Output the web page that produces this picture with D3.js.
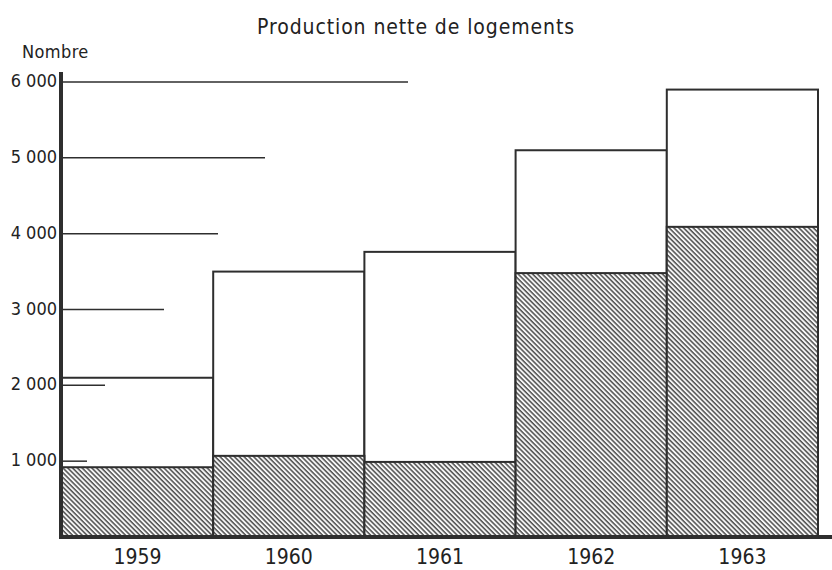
<!DOCTYPE html>
<html>
<head>
<meta charset="utf-8">
<script src="https://cdn.jsdelivr.net/npm/d3@7"></script>
<style>
  body { margin: 0; background: #fff; }
  text { font-family: "DejaVu Sans Condensed", "Liberation Sans Narrow", "Roboto", sans-serif; fill: #222; }
</style>
</head>
<body>
<svg id="chart" width="832" height="570"></svg>
<script>
// values
const years = ["1959", "1960", "1961", "1962", "1963"];
const totals = [2100, 3500, 3760, 5100, 5900];
const hatched = [920, 1070, 990, 3480, 4090];
const yTicks = [1000, 2000, 3000, 4000, 5000, 6000];

// the old drawing has ruled lines of uneven length
const gridReach = { 1000: 87, 2000: 105, 3000: 164, 4000: 218, 5000: 265, 6000: 408 };

const svg = d3.select("#chart");
const ink = "#2e2e2e";

const x = d3.scaleBand().domain(years).range([62, 818]).padding(0);
const y = d3.scaleLinear().domain([0, 6000]).range([537, 82]);

const fmt = d3.formatLocale({ decimal: ",", thousands: " ", grouping: [3], currency: ["", ""] }).format(",d");

// hatch pattern
svg.append("defs")
  .append("pattern")
  .attr("id", "hatch")
  .attr("patternUnits", "userSpaceOnUse")
  .attr("width", 3.4)
  .attr("height", 3.4)
  .attr("patternTransform", "rotate(45)")
  .call(p => {
    p.append("rect").attr("width", 3.4).attr("height", 3.4).attr("fill", "#f6f6f6");
    p.append("rect").attr("width", 3.4).attr("height", 1.5).attr("fill", "#505050");
  });

// title
svg.append("text")
  .attr("x", 416)
  .attr("y", 34)
  .attr("text-anchor", "middle")
  .style("font-size", "21px")
  .style("letter-spacing", "0.9px")
  .text("Production nette de logements");

svg.append("text")
  .attr("x", 22)
  .attr("y", 58)
  .style("font-size", "18px")
  .style("letter-spacing", "0.4px")
  .text("Nombre");

// total bars (white)
svg.append("g")
  .selectAll("rect")
  .data(years)
  .join("rect")
  .attr("x", d => x(d))
  .attr("width", x.bandwidth())
  .attr("y", (d, i) => y(totals[i]))
  .attr("height", (d, i) => y(0) - y(totals[i]))
  .attr("fill", "#fff")
  .attr("stroke", ink)
  .attr("stroke-width", 2);

// hatched part
svg.append("g")
  .selectAll("rect")
  .data(years)
  .join("rect")
  .attr("x", d => x(d))
  .attr("width", x.bandwidth())
  .attr("y", (d, i) => y(hatched[i]))
  .attr("height", (d, i) => y(0) - y(hatched[i]))
  .attr("fill", "url(#hatch)")
  .attr("stroke", ink)
  .attr("stroke-width", 2);

// short ruled lines, drawn over the bars
svg.append("g")
  .selectAll("line")
  .data(yTicks)
  .join("line")
  .attr("x1", 62)
  .attr("x2", d => gridReach[d])
  .attr("y1", d => y(d))
  .attr("y2", d => y(d))
  .attr("stroke", ink)
  .attr("stroke-width", 1.5);

// y tick labels
svg.append("g")
  .selectAll("text")
  .data(yTicks)
  .join("text")
  .attr("x", 57)
  .attr("y", d => y(d))
  .attr("text-anchor", "end")
  .attr("dominant-baseline", "middle")
  .style("font-size", "18px")
  .text(d => fmt(d));

// axes
svg.append("line")
  .attr("x1", 61).attr("x2", 61)
  .attr("y1", 72).attr("y2", 539)
  .attr("stroke", ink).attr("stroke-width", 4);

svg.append("line")
  .attr("x1", 59).attr("x2", 832)
  .attr("y1", 537).attr("y2", 537)
  .attr("stroke", ink).attr("stroke-width", 4);

// year labels
svg.append("g")
  .selectAll("text")
  .data(years)
  .join("text")
  .attr("x", d => x(d) + x.bandwidth() / 2)
  .attr("y", 564)
  .attr("text-anchor", "middle")
  .style("font-size", "21px")
  .text(d => d);
</script>
</body>
</html>
